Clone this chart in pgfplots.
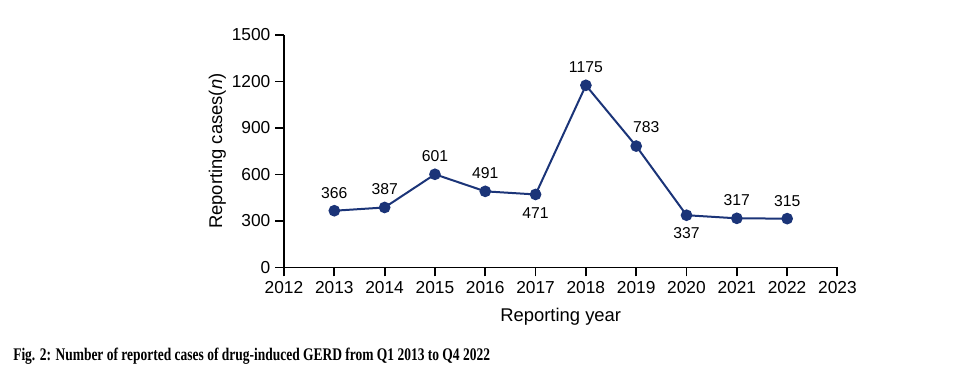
\documentclass[border=0pt]{standalone}
\usepackage{pgfplots}
\pgfplotsset{compat=1.18}
\usepackage{fontspec}
\setmainfont{Liberation Sans}
\newfontfamily\capfont[FakeStretch=0.76]{Liberation Serif}
\definecolor{navy}{HTML}{1B3478}
\begin{document}
\begin{tikzpicture}
\path[use as bounding box] (0,0) rectangle (723pt,-280.5pt);
\begin{axis}[
  at={(213pt,-200.6pt)}, anchor=south west,
  scale only axis, width=415.1pt, height=174.4pt,
  axis lines=left, axis line style={line width=1.4pt, -},
  xmin=2012, xmax=2023, ymin=0, ymax=1500,
  xtick={2012,...,2023}, ytick={0,300,...,1500},
  tick align=outside, major tick length=6.75pt,
  tick style={line width=1.4pt, black},
  /pgf/number format/1000 sep={},
  /pgf/number format/assume math mode=true,
  ticklabel style={font=\fontsize{13}{15}\selectfont},
  xlabel={Reporting year},
  ylabel={Reporting cases(\textit{n})},
  every axis x label/.style={at={(rel axis cs:0.5,0)}, yshift=-37.1pt, anchor=center, font=\fontsize{13.8}{16}\selectfont},
  every axis y label/.style={at={(rel axis cs:0,0.5)}, xshift=-50pt, anchor=center, rotate=90, font=\fontsize{13.8}{16}\selectfont},
  clip=false,
]
\addplot[navy, line width=1.5pt, mark=*, mark size=3.6pt, mark options={fill=navy, draw=navy},
  nodes near coords,
  visualization depends on={\thisrow{off} \as \off},
  visualization depends on={\thisrow{xoff} \as \xoff},
  every node near coord/.style={anchor=center, yshift=\off pt, xshift=\xoff pt, black, font=\fontsize{11.8}{13}\selectfont, /pgf/number format/1000 sep={}},
] table[x=x, y=y] {
x y off xoff
2013 366 13.5 0
2014 387 13.5 0
2015 601 13.5 0
2016 491 13.5 0
2017 471 -14 0
2018 1175 13.5 0
2019 783 14 7.5
2020 337 -13.5 0
2021 317 13.5 0
2022 315 13.5 0
};
\end{axis}
\node[anchor=base west, inner sep=0pt, font=\capfont\bfseries\fontsize{13.3}{15}\selectfont] at (9.75pt,-270pt) {Fig. 2: Number of reported cases of drug-induced GERD from Q1 2013 to Q4 2022};
\end{tikzpicture}
\end{document}
